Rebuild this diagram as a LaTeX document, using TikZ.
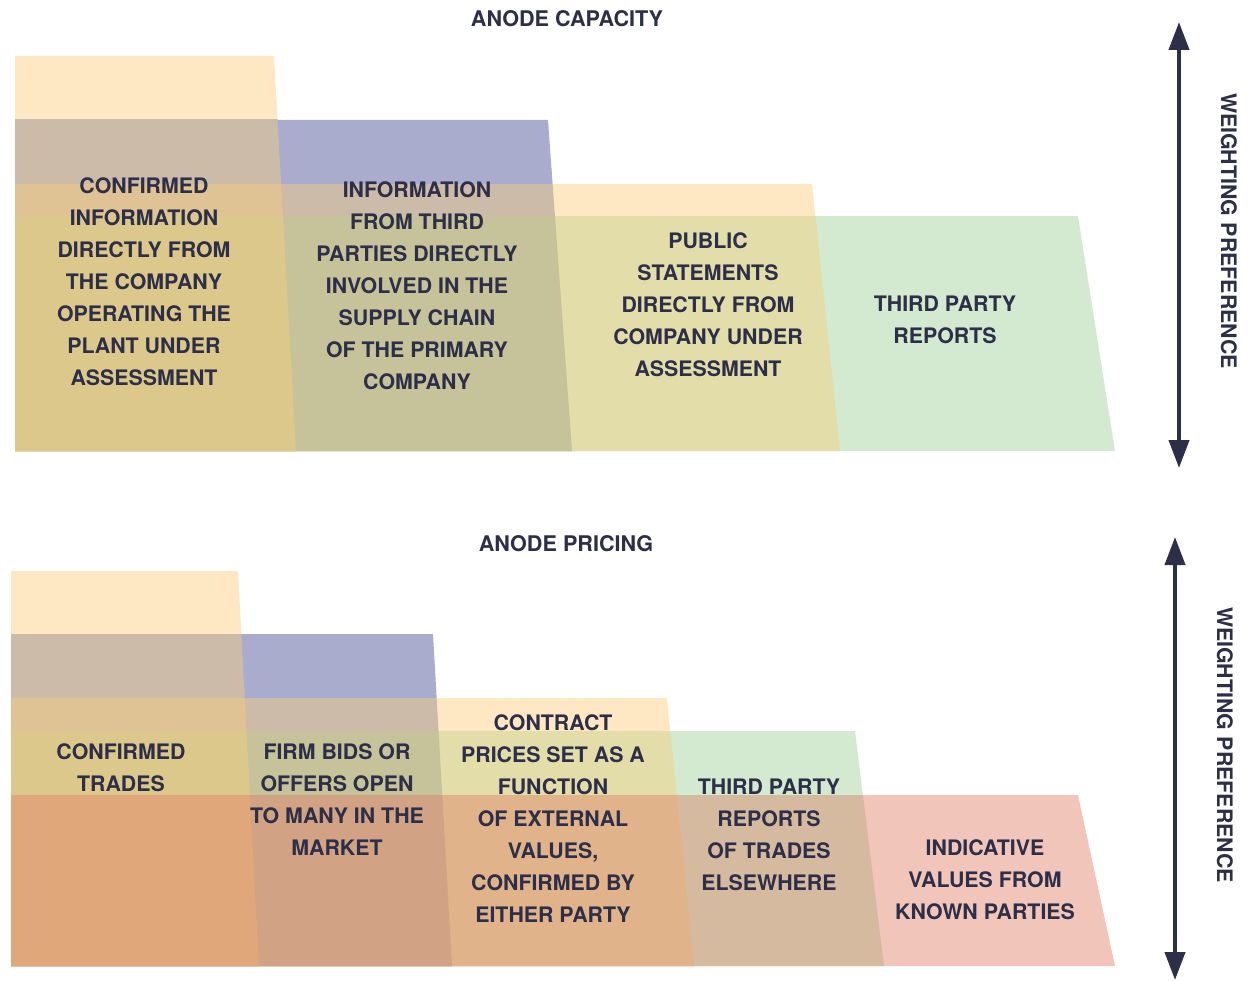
\documentclass[tikz,border=0pt]{standalone}
\usepackage{fontspec}
\setmainfont{TeX Gyre Heros}
\usetikzlibrary{arrows.meta}
\definecolor{ink}{HTML}{2D2E48}
\definecolor{cYa}{HTML}{FEE8C4}
\definecolor{cYB}{HTML}{CCBBA8}
\definecolor{cB}{HTML}{A9ACCD}
\definecolor{cYBY}{HTML}{E0C395}
\definecolor{cYBYG}{HTML}{DDC88C}
\definecolor{cBYG}{HTML}{C6C29A}
\definecolor{cYG}{HTML}{E3DDAA}
\definecolor{cG}{HTML}{D3E9D0}
\definecolor{cAllP}{HTML}{DFA77A}
\definecolor{cBYGP}{HTML}{D1A283}
\definecolor{cYGP}{HTML}{E0B38A}
\definecolor{cGP}{HTML}{D5BA9F}
\definecolor{cP}{HTML}{F1C5B9}
% trapezoid: colour, left, top, right-top, right-bottom, bottom
\newcommand\mytrap[6]{\fill[#1] (#2,#3) -- (#4,#3) -- (#5,#6) -- (#2,#6) -- cycle;}
\tikzset{
  lbl/.style={text=ink, font=\bfseries\fontsize{16}{24}\selectfont, align=center, inner sep=0pt},
  ttl/.style={text=ink, font=\bfseries\fontsize{16.2}{18}\selectfont, inner sep=0pt},
  side/.style={text=ink, font=\bfseries\fontsize{16}{18}\selectfont, inner sep=0pt, rotate=-90},
  wgt/.style={draw=ink, line width=3pt, {Triangle[length=21pt,width=15pt]}-{Triangle[length=21pt,width=15pt]}}
}
\begin{document}
\begin{tikzpicture}[x=0.75pt,y=-0.75pt]
\useasboundingbox (0,0) rectangle (1257,981);
% ---------- top panel: anode capacity ----------
\begin{scope}\clip (0,56) rectangle (1257,451);
  \mytrap{cYa}{15}{56}{274}{296}{451}
\end{scope}
\begin{scope}\clip (0,120) rectangle (1257,451);
  \mytrap{cB}{15}{120}{548}{572}{451}
  \mytrap{cYB}{15}{56}{274}{296}{451}
\end{scope}
\begin{scope}\clip (0,184) rectangle (1257,451);
  \mytrap{cYa}{15}{184}{812}{840}{451}
  \mytrap{cYB}{15}{120}{548}{572}{451}
  \mytrap{cYBY}{15}{56}{274}{296}{451}
\end{scope}
\begin{scope}\clip (0,216) rectangle (1257,451);
  \mytrap{cG}{15}{216}{1078}{1115}{451}
  \mytrap{cYG}{15}{184}{812}{840}{451}
  \mytrap{cBYG}{15}{120}{548}{572}{451}
  \mytrap{cYBYG}{15}{56}{274}{296}{451}
\end{scope}
% ---------- bottom panel: anode pricing ----------
\begin{scope}\clip (0,571) rectangle (1257,966);
  \mytrap{cYa}{11}{571}{238}{259}{966}
\end{scope}
\begin{scope}\clip (0,634) rectangle (1257,966);
  \mytrap{cB}{11}{634}{433}{452}{966}
  \mytrap{cYB}{11}{571}{238}{259}{966}
\end{scope}
\begin{scope}\clip (0,698) rectangle (1257,966);
  \mytrap{cYa}{11}{698}{667}{694}{966}
  \mytrap{cYB}{11}{634}{433}{452}{966}
  \mytrap{cYBY}{11}{571}{238}{259}{966}
\end{scope}
\begin{scope}\clip (0,731) rectangle (1257,966);
  \mytrap{cG}{11}{731}{855}{884}{966}
  \mytrap{cYG}{11}{698}{667}{694}{966}
  \mytrap{cBYG}{11}{634}{433}{452}{966}
  \mytrap{cYBYG}{11}{571}{238}{259}{966}
\end{scope}
\begin{scope}\clip (0,795) rectangle (1257,966);
  \mytrap{cP}{11}{795}{1078}{1115}{966}
  \mytrap{cGP}{11}{731}{855}{884}{966}
  \mytrap{cYGP}{11}{698}{667}{694}{966}
  \mytrap{cBYGP}{11}{634}{433}{452}{966}
  \mytrap{cAllP}{11}{571}{238}{259}{966}
\end{scope}
% ---------- titles ----------
\node[ttl] (t1) at (567,19) {ANODE CAPACITY};
\node[ttl] (t2) at (566,544) {ANODE PRICING};
% ---------- labels top ----------
\node[lbl] (a1) at (144,282) {CONFIRMED\\INFORMATION\\DIRECTLY FROM\\THE COMPANY\\OPERATING THE\\PLANT UNDER\\ASSESSMENT};
\node[lbl] (a2) at (417,286) {INFORMATION\\FROM THIRD\\PARTIES DIRECTLY\\INVOLVED IN THE\\SUPPLY CHAIN\\OF THE PRIMARY\\COMPANY};
\node[lbl] (a3) at (708,305) {PUBLIC\\STATEMENTS\\DIRECTLY FROM\\COMPANY UNDER\\ASSESSMENT};
\node[lbl] (a4) at (945,320) {THIRD PARTY\\REPORTS};
% ---------- labels bottom ----------
\node[lbl] (b1) at (121,768) {CONFIRMED\\TRADES};
\node[lbl] (b2) at (337,800) {FIRM BIDS OR\\OFFERS OPEN\\TO MANY IN THE\\MARKET};
\node[lbl] (b3) at (553,819) {CONTRACT\\PRICES SET AS A\\FUNCTION\\OF EXTERNAL\\VALUES,\\CONFIRMED BY\\EITHER PARTY};
\node[lbl] (b4) at (769,835) {THIRD PARTY\\REPORTS\\OF TRADES\\ELSEWHERE};
\node[lbl] (b5) at (985,880) {INDICATIVE\\VALUES FROM\\KNOWN PARTIES};
% ---------- weighting arrows ----------
\coordinate (u1) at (1179,22);
\coordinate (d1) at (1179,468);
\coordinate (u2) at (1175,537);
\coordinate (d2) at (1175,980);
\draw[wgt] (u1) -- (d1);
\draw[wgt] (u2) -- (d2);
\node[side] (w1) at (1229,231) {WEIGHTING\hspace{0.3em}PREFERENCE};
\node[side] (w2) at (1225,745) {WEIGHTING\hspace{0.3em}PREFERENCE};
\end{tikzpicture}
\end{document}
